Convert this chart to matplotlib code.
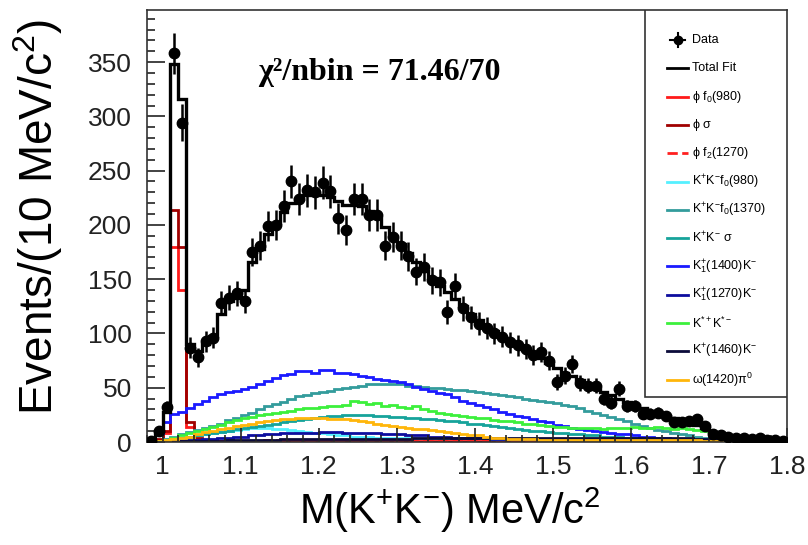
import numpy as np
import matplotlib.pyplot as plt
from matplotlib.patches import Rectangle
from matplotlib.ticker import MultipleLocator, FuncFormatter

plt.rcParams['font.family'] = ['Liberation Sans', 'DejaVu Sans']
plt.rcParams['mathtext.fontset'] = 'custom'
plt.rcParams['mathtext.rm'] = 'Liberation Sans'
plt.rcParams['mathtext.it'] = 'Liberation Sans:italic'
plt.rcParams['mathtext.default'] = 'regular'

# binning: 10 MeV bins from 0.98 to 1.80
m_lo, m_hi, n_bins = 0.98, 1.80, 82
edges = np.linspace(m_lo, m_hi, n_bins + 1)
centers = 0.5 * (edges[:-1] + edges[1:])

# data, events per bin
data = [1, 10, 32, 358, 294, 87, 78, 93, 96, 128,
        133, 137, 130, 175, 181, 199, 200, 217, 240, 224,
        232, 230, 239, 231, 206, 195, 224, 224, 209, 209,
        181, 189, 181, 171, 157, 161, 149, 147, 120, 144,
        123, 115, 109, 105, 100, 97, 92, 89, 86, 80,
        83, 75, 55, 61, 72, 54, 52, 52, 40, 36,
        49, 33, 33, 26, 26, 27, 24, 18, 18, 19,
        21, 15, 7, 6, 5, 4, 4, 3, 4, 2,
        2, 1]

total_fit = [2, 10, 28, 348, 316, 90, 84, 90, 98, 118,
             130, 133, 140, 166, 178, 192, 202, 212, 220, 224,
             228, 229, 228, 226, 222, 218, 218, 217, 213, 206,
             198, 190, 182, 174, 166, 158, 151, 144, 138, 132,
             125, 118, 112, 107, 102, 97, 93, 89, 85, 81,
             77, 73, 68, 64, 61, 57, 53, 49, 46, 43,
             40, 37, 34, 31, 28, 26, 24, 22, 20, 18,
             16, 13, 9, 7, 5, 4, 3, 3, 2, 2,
             1, 1]

phi_f0 = [0, 2, 8, 180, 140, 14, 3, 1, 1, 1,
          1, 1, 1, 1, 1, 1, 1, 1, 1, 1,
          1, 1, 1, 1, 1, 1, 1, 1, 1, 1,
          1, 1, 1, 1, 1, 1, 1, 1, 1, 1,
          1, 1, 1, 1, 1, 1, 1, 1, 1, 1,
          1, 1, 1, 1, 1, 1, 1, 1, 1, 1,
          1, 1, 1, 1, 1, 1, 1, 1, 1, 1,
          0, 0, 0, 0, 0, 0, 0, 0, 0, 0,
          0, 0]

phi_sigma = [0, 3, 10, 214, 180, 18, 4, 1, 1, 0,
             0, 0, 0, 0, 0, 0, 0, 0, 0, 0,
             0, 0, 0, 0, 0, 0, 0, 0, 0, 0,
             0, 0, 0, 0, 0, 0, 0, 0, 0, 0,
             0, 0, 0, 0, 0, 0, 0, 0, 0, 0,
             0, 0, 0, 0, 0, 0, 0, 0, 0, 0,
             0, 0, 0, 0, 0, 0, 0, 0, 0, 0,
             0, 0, 0, 0, 0, 0, 0, 0, 0, 0,
             0, 0]

phi_f2 = [0, 0, 1, 2, 2, 1, 1, 1, 1, 1,
          1, 1, 1, 1, 1, 2, 2, 2, 2, 2,
          2, 2, 2, 2, 2, 2, 2, 2, 2, 2,
          2, 2, 2, 2, 2, 2, 2, 2, 2, 2,
          2, 2, 2, 2, 1, 1, 1, 1, 1, 1,
          1, 1, 1, 1, 1, 1, 1, 1, 1, 1,
          1, 1, 1, 1, 1, 1, 1, 1, 1, 1,
          1, 1, 1, 1, 0, 0, 0, 0, 0, 0,
          0, 0]

kk_f0_980 = [0, 1, 2, 3, 4, 5, 6, 7, 8, 9,
             10, 11, 12, 13, 13, 13, 12, 12, 11, 10,
             9, 8, 8, 7, 6, 6, 5, 5, 5, 4,
             4, 4, 4, 4, 4, 4, 4, 4, 4, 4,
             4, 4, 4, 4, 3, 3, 3, 3, 3, 3,
             3, 3, 3, 3, 3, 3, 3, 2, 2, 2,
             2, 2, 2, 2, 2, 2, 2, 1, 1, 1,
             1, 1, 1, 1, 1, 1, 0, 0, 0, 0,
             0, 0]

kk_f0_1370 = [0, 1, 3, 5, 7, 9, 11, 13, 15, 17,
              20, 22, 25, 27, 30, 33, 35, 37, 40, 42,
              43, 45, 46, 47, 49, 50, 51, 52, 53, 53,
              53, 53, 53, 52, 52, 51, 50, 50, 49, 48,
              48, 47, 46, 45, 44, 43, 42, 41, 40, 39,
              38, 37, 36, 34, 33, 31, 29, 27, 25, 23,
              21, 19, 17, 15, 13, 11, 10, 8, 7, 6,
              5, 4, 4, 3, 3, 2, 2, 2, 1, 1,
              1, 0]

kk_sigma = [0, 1, 2, 3, 4, 5, 6, 7, 8, 9,
            10, 12, 13, 14, 15, 16, 17, 18, 19, 20,
            21, 22, 23, 24, 24, 25, 25, 25, 25, 24,
            24, 23, 23, 22, 22, 21, 21, 20, 19, 19,
            18, 17, 17, 16, 15, 14, 13, 12, 11, 10,
            10, 9, 8, 8, 7, 7, 6, 6, 5, 5,
            5, 4, 4, 4, 3, 3, 3, 2, 2, 2,
            2, 1, 1, 1, 1, 1, 1, 0, 0, 0,
            0, 0]

k1_1400 = [1, 8, 18, 26, 28, 31, 35, 38, 41, 44,
           46, 47, 49, 51, 53, 56, 59, 62, 63, 65,
           65, 64, 66, 66, 64, 64, 63, 61, 60, 58,
           57, 56, 55, 53, 51, 49, 47, 45, 44, 41,
           38, 36, 34, 32, 30, 28, 26, 24, 23, 21,
           19, 18, 16, 15, 13, 12, 11, 10, 9, 8,
           7, 7, 6, 5, 5, 4, 4, 3, 3, 3,
           2, 2, 2, 2, 1, 1, 1, 1, 1, 0,
           0, 0]

k1_1270 = [0, 0, 1, 1, 1, 2, 2, 3, 3, 4,
           4, 5, 5, 6, 6, 7, 7, 8, 8, 8,
           8, 8, 9, 9, 9, 8, 8, 8, 8, 8,
           7, 7, 7, 6, 6, 6, 5, 5, 5, 4,
           4, 4, 4, 4, 3, 3, 3, 3, 3, 3,
           3, 3, 3, 2, 2, 2, 2, 2, 2, 2,
           2, 2, 2, 1, 1, 1, 1, 1, 1, 1,
           1, 1, 1, 1, 1, 0, 0, 0, 0, 0,
           0, 0]

kst_kst = [0, 1, 2, 4, 6, 8, 10, 12, 14, 16,
           18, 20, 22, 23, 25, 26, 27, 28, 29, 30,
           31, 31, 32, 33, 33, 34, 38, 37, 35, 36,
           33, 34, 32, 31, 33, 30, 29, 27, 26, 25,
           24, 23, 22, 22, 20, 19, 19, 18, 17, 17,
           16, 15, 14, 14, 13, 13, 13, 13, 12, 13,
           13, 13, 14, 13, 13, 14, 13, 12, 13, 12,
           11, 10, 8, 6, 5, 4, 3, 2, 2, 1,
           1, 0]

k_1460 = [0, 0, 0, 0, 1, 1, 1, 1, 1, 1,
          2, 2, 2, 2, 2, 2, 2, 3, 3, 3,
          3, 3, 3, 3, 3, 3, 3, 3, 3, 3,
          3, 3, 3, 3, 4, 4, 4, 4, 4, 4,
          4, 4, 4, 4, 4, 4, 4, 4, 4, 4,
          4, 4, 4, 4, 4, 4, 4, 4, 4, 4,
          4, 4, 4, 4, 4, 4, 4, 4, 4, 4,
          3, 3, 3, 2, 2, 2, 2, 1, 1, 1,
          1, 0]

omega_pi0 = [0, 1, 2, 3, 4, 5, 7, 9, 10, 12,
             13, 15, 16, 17, 18, 19, 20, 21, 21, 22,
             22, 22, 22, 21, 21, 21, 20, 19, 18, 17,
             16, 15, 14, 13, 12, 12, 11, 10, 9, 8,
             7, 6, 6, 5, 4, 4, 3, 3, 3, 3,
             2, 2, 2, 2, 2, 2, 2, 2, 2, 2,
             2, 2, 2, 2, 2, 2, 2, 2, 2, 2,
             2, 1, 1, 1, 1, 1, 1, 1, 1, 1,
             1, 1]

components = [
    (r'$\phi$ f$_0$(980)', phi_f0, '#ff1a1a', '-'),
    (r'$\phi$ $\sigma$', phi_sigma, '#a00000', '-'),
    (r'$\phi$ f$_2$(1270)', phi_f2, '#ff2020', '--'),
    (r'K$^{+}$K$^{-}$f$_0$(980)', kk_f0_980, '#55f0ff', '-'),
    (r'K$^{+}$K$^{-}$f$_0$(1370)', kk_f0_1370, '#339c9c', '-'),
    (r'K$^{+}$K$^{-}$ $\sigma$', kk_sigma, '#16a39b', '-'),
    (r'K$_1^{+}$(1400)K$^{-}$', k1_1400, '#1a1aff', '-'),
    (r'K$_1^{+}$(1270)K$^{-}$', k1_1270, '#0d0d9e', '-'),
    (r'K$^{*+}$K$^{*-}$', kst_kst, '#3cf03c', '-'),
    (r'K$^{+}$(1460)K$^{-}$', k_1460, '#0b0b3a', '-'),
    (r'$\omega$(1420)$\pi^0$', omega_pi0, '#ffb60a', '-'),
]

W, H = 808, 545
fig = plt.figure(figsize=(W / 100, H / 100), dpi=100)
ax = fig.add_axes([147 / W, 1 - 442 / H, 640 / W, 432 / H])

for label, vals, color, ls in components:
    ax.stairs(vals, edges, color=color, lw=2.0, ls=ls)

ax.stairs(total_fit, edges, color='black', lw=2.4)

data = np.array(data)
ax.errorbar(centers, data, yerr=np.sqrt(data), fmt='o', color='black',
            ms=7.5, elinewidth=1.8, capsize=0, zorder=4)

ax.set_xlim(m_lo, m_hi)
ax.set_ylim(0, 398)

ax.xaxis.set_major_locator(MultipleLocator(0.1))
ax.xaxis.set_minor_locator(MultipleLocator(0.02))
ax.yaxis.set_major_locator(MultipleLocator(50))
ax.yaxis.set_minor_locator(MultipleLocator(10))
ax.xaxis.set_major_formatter(FuncFormatter(lambda v, p: '{:g}'.format(round(v, 2))))
ax.tick_params(axis='both', which='both', direction='in', top=False, right=False,
               labelsize=19, width=1.2, colors='#222222')
ax.tick_params(axis='y', which='major', length=13, pad=11)
ax.tick_params(axis='y', which='minor', length=6)
ax.tick_params(axis='x', which='major', length=10, pad=9)
ax.tick_params(axis='x', which='minor', length=5)
for sp in ax.spines.values():
    sp.set_linewidth(1.2)
    sp.set_color('#333333')

ax.set_ylabel(r'Events/(10 MeV/c$^{2}$)', fontsize=33)
ax.yaxis.set_label_coords(-0.128, 0.52)
ax.set_xlabel(r'M(K$^{+}$K$^{-}$) MeV/c$^{2}$', fontsize=30)
ax.xaxis.set_label_coords(0.473, -0.1)

ax.text(0.173, 0.856, 'χ²/nbin = 71.46/70', transform=ax.transAxes,
        fontsize=23, fontweight='bold', family='Liberation Serif', va='center')


# legend drawn by hand, in pixel units of the figure, so rows are evenly spaced
def px(x, y):
    return ((x - 147) / 640, (442 - y) / 432)


box_x0, box_y0 = px(645, 397)
ax.add_patch(Rectangle((box_x0, box_y0), 1 - box_x0, 1 - box_y0,
                       transform=ax.transAxes, facecolor='white',
                       edgecolor='#333333', lw=1.2, zorder=3))

rows = [('Data', 'black', 'data'), ('Total Fit', 'black', '-')]
rows += [(label, color, ls) for label, vals, color, ls in components]
for i, (label, color, ls) in enumerate(rows):
    y = 40 + 28.3 * i
    (xa, ya), (xb, _) = px(667, y), px(688, y)
    if ls == 'data':
        xm, _ = px(677.5, y)
        _, yt = px(677.5, y - 7)
        _, yb = px(677.5, y + 7)
        ax.plot([xa + 0.005, xb - 0.005], [ya, ya], color=color, lw=1.5,
                transform=ax.transAxes, zorder=5)
        ax.plot([xm, xm], [yb, yt], color=color, lw=1.5,
                transform=ax.transAxes, zorder=5)
        ax.plot([xm], [ya], 'o', color=color, ms=6,
                transform=ax.transAxes, zorder=5)
    else:
        ax.plot([xa, xb], [ya, ya], color=color, lw=2, ls=ls,
                transform=ax.transAxes, zorder=5)
    xt, _ = px(692, y)
    ax.text(xt, ya, label, transform=ax.transAxes, fontsize=9,
            va='center', ha='left', zorder=5)

fig.savefig('out.png', dpi=100)
